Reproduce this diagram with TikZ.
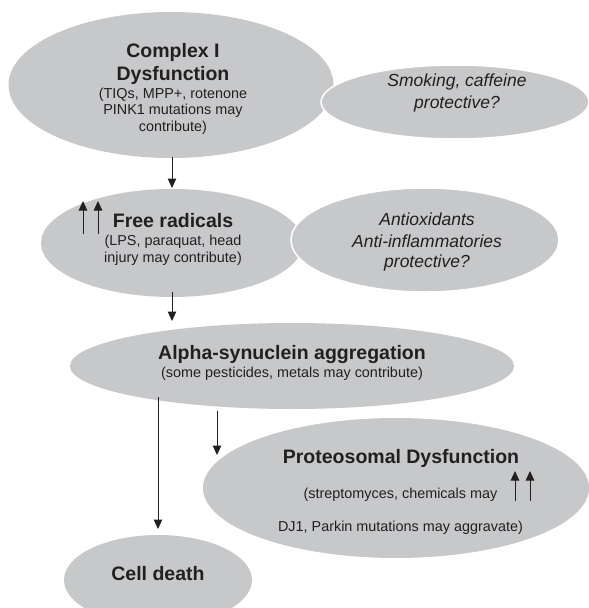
\documentclass[tikz,border=0pt]{standalone}
\usepackage{fontspec}
\setmainfont{Liberation Sans}
\usetikzlibrary{shapes.geometric,arrows.meta}
\definecolor{ellgray}{RGB}{199,200,202}
\definecolor{ink}{RGB}{35,31,32}
\begin{document}
\begin{tikzpicture}[x=1pt,y=-1pt,
  blob/.style={ellipse, fill=ellgray, inner sep=0pt, draw=none},
  topblob/.style={blob, draw=white, line width=1.5pt},
  title/.style={anchor=base, inner sep=0pt, text=ink, font=\fontsize{19.5}{21}\selectfont\bfseries},
  small/.style={anchor=base, inner sep=0pt, text=ink, font=\fontsize{14.4}{17}\selectfont},
  ital/.style={anchor=base, inner sep=0pt, text=ink, font=\fontsize{17.5}{21}\selectfont\itshape},
  arr/.style={-{Triangle[length=9.5pt,width=8.5pt]}, line width=1pt, draw=ink}]
\useasboundingbox (0,0) rectangle (589,608);
\clip (0,0) rectangle (589,608);

% ellipses
\node[blob, minimum width=325pt, minimum height=146pt] (c1) at (171,85) {};
\node[topblob, minimum width=268pt, minimum height=74pt] (smk) at (455,102) {};
\node[blob, minimum width=262pt, minimum height=108pt] (fr) at (172,243) {};
\node[topblob, minimum width=268pt, minimum height=104pt] (ao) at (425,240) {};
\node[blob, minimum width=444pt, minimum height=86pt] (al) at (292,366) {};
\node[blob, minimum width=386pt, minimum height=140pt] (pr) at (396,488) {};
\node[blob, minimum width=188pt, minimum height=90pt] (cd) at (158,580) {};

% texts
\node[title] (t1a) at (173,57.5) {Complex I};
\node[title] (t1b) at (173,80.5) {Dysfunction};
\node[small] (t1c) at (173,98) {(TIQs, MPP+, rotenone};
\node[small] (t1d) at (173,114) {PINK1 mutations may};
\node[small] (t1e) at (173,131) {contribute)};

\node[ital] (t2a) at (457,86) {Smoking, caffeine};
\node[ital] (t2b) at (457,108) {protective?};

\node[title] (t3a) at (173,227) {Free radicals};
\node[small] (t3b) at (173,245) {(LPS, paraquat, head};
\node[small] (t3c) at (173,262) {injury may contribute)};

\node[ital] (t4a) at (427,225) {Antioxidants};
\node[ital] (t4b) at (427,247) {Anti-inflammatories};
\node[ital] (t4c) at (427,267) {protective?};

\node[title] (t5a) at (292,359) {Alpha-synuclein aggregation};
\node[small] (t5b) at (292,377) {(some pesticides, metals may contribute)};

\node[title] (t6a) at (401,463) {Proteosomal Dysfunction};
\node[small] (t6b) at (400.5,498) {(streptomyces, chemicals may};
\node[small] (t6c) at (400.5,531) {DJ1, Parkin mutations may aggravate)};

\node[title] (t7a) at (158,580) {Cell death};

% connectors
\coordinate (a1s) at (172,157);
\coordinate (a1e) at (172,188);
\draw[arr] (a1s) -- (a1e);
\coordinate (a2s) at (172,292);
\coordinate (a2e) at (172,321);
\draw[arr] (a2s) -- (a2e);
\coordinate (a3s) at (158,397);
\coordinate (a3e) at (158,529);
\draw[arr] (a3s) -- (a3e);
\coordinate (a4s) at (217,411);
\coordinate (a4e) at (217,455);
\draw[arr] (a4s) -- (a4e);

% increase arrows
\coordinate (u1s) at (83,234);  \coordinate (u1e) at (83,201);
\coordinate (u2s) at (98,234);  \coordinate (u2e) at (98,201);
\draw[arr] (u1s) -- (u1e);
\draw[arr] (u2s) -- (u2e);
\coordinate (u3s) at (515,501); \coordinate (u3e) at (515,471);
\coordinate (u4s) at (530,501); \coordinate (u4e) at (530,471);
\draw[arr] (u3s) -- (u3e);
\draw[arr] (u4s) -- (u4e);
\end{tikzpicture}
\end{document}
